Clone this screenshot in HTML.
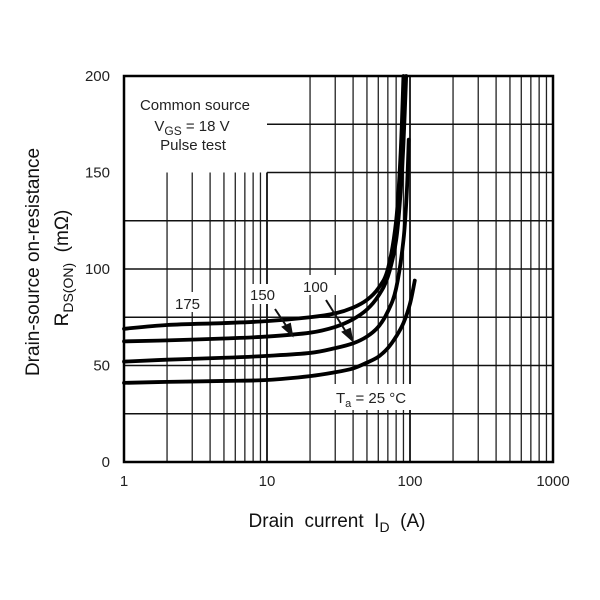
<!DOCTYPE html>
<html><head><meta charset="utf-8"><style>
html,body{margin:0;padding:0;background:#fff;}
svg{display:block;font-family:"Liberation Sans",Arial,sans-serif;}
</style></head><body>
<svg id="chart" width="600" height="600" viewBox="0 0 600 600" xmlns="http://www.w3.org/2000/svg">
<g id="grid"></g>
<g id="masks"></g>
<g id="curves"></g>
<rect x="124" y="76" width="429" height="386" fill="none" stroke="#000" stroke-width="2.5"/>
<g id="ticks" font-size="15" fill="#222"></g>
<g font-size="15" fill="#222" text-anchor="middle">
<text x="195" y="110">Common source</text>
<text x="192" y="131">V<tspan font-size="12" dy="4">GS</tspan><tspan dy="-4"> = 18 V</tspan></text>
<text x="193" y="150">Pulse test</text>
</g>
<g font-size="15" fill="#222">
<text x="175" y="309">175</text>
<text x="250" y="300">150</text>
<text x="303" y="292">100</text>
<text x="336" y="403">T<tspan font-size="11" dy="4">a</tspan><tspan dy="-4"> = 25 °C</tspan></text>
</g>
<g stroke="#111" stroke-width="2" fill="#111">
<line x1="275" y1="309" x2="289" y2="330"/><polygon points="292,335 283,327 290,324"/>
<line x1="326" y1="300" x2="348" y2="335"/><polygon points="352,340 343,332 350,329"/>
</g>
<text x="337" y="527" font-size="19" fill="#111" text-anchor="middle">Drain&#160; current&#160; I<tspan font-size="14" dy="5">D</tspan><tspan dy="-5">&#160; (A)</tspan></text>
<g font-size="19" fill="#111" text-anchor="middle">
<text transform="translate(39,262) rotate(-90)">Drain-source on-resistance</text>
<text transform="translate(68,268) rotate(-90)">R<tspan font-size="14" dy="5">DS(ON)</tspan><tspan dy="-5">&#160; (mΩ)</tspan></text>
</g>
</svg>
<script>
const xTicks=[1,10,100,1000];
const yTicks=[0,50,100,150,200];
const s175x=[1,2,5,10,20,30,40,50,60,70,80,86,90];
const s175y=[69,71,72,73,75,77,80,84,90,100,125,160,200];
const s150x=[1,2,5,10,20,30,40,50,60,70,80,86,90,94];
const s150y=[62.5,63,64,65,67,70,74,79,86,96,115,140,165,200];
const s100x=[1,2,5,10,20,30,40,50,60,70,80,90,95,98];
const s100y=[52,53,54,55,56.5,59,61.5,65,70,78,90,115,140,167];
const s25x=[1,2,5,10,20,30,40,50,60,70,80,90,100,108];
const s25y=[41,41.5,42,42.5,44.5,46.5,48.5,51.5,54.5,59,65,72,82,94];
const X0=124,DEC=143,Y0=462,YS=1.93;
const xs=v=>X0+DEC*Math.log10(v);
const ys=v=>Y0-YS*v;
const NS="http://www.w3.org/2000/svg";
function mk(tag,attrs,parent){const e=document.createElementNS(NS,tag);for(const k in attrs)e.setAttribute(k,attrs[k]);parent.appendChild(e);return e;}
const grid=document.getElementById('grid');
for(let d=0;d<3;d++){for(let m=2;m<=9;m++){const v=Math.pow(10,d)*m;const x=xs(v);
 const top=(d===0)?ys(150):ys(200);
 const l=mk('line',{x1:x,x2:x,y1:top,y2:Y0,stroke:'#222','stroke-width':1.3},grid);
 
 }}
for(const v of xTicks){const x=xs(v);const l=mk('line',{x1:x,x2:x,y1:(v===10?ys(150):ys(200)),y2:Y0,stroke:'#111','stroke-width':1.8},grid);
 
 }
for(let v=25;v<200;v+=25){const y=ys(v);const x1=(v>=150)?xs(10):X0;
 const l=mk('line',{x1:x1,x2:xs(1000),y1:y,y2:y,stroke:'#111','stroke-width':1.6},grid);
 
 }
const masks=document.getElementById('masks');
[[170,292,38,20],[246,284,38,20],[299,275,38,20],[330,384,86,26]].forEach(r=>{
 const m=mk('rect',{x:r[0],y:r[1],width:r[2],height:r[3],fill:'#fff'},masks);
 
 });
const curves=document.getElementById('curves');
[[s175x,s175y,'curve-175c'],[s150x,s150y,'curve-150c'],[s100x,s100y,'curve-100c'],[s25x,s25y,'curve-25c']].forEach(([xa,ya,n])=>{
 const P=xa.map((v,i)=>[xs(v),ys(ya[i])]);
 let d='M'+P[0][0].toFixed(2)+','+P[0][1].toFixed(2);
 for(let i=0;i<P.length-1;i++){
  const p0=P[Math.max(i-1,0)],p1=P[i],p2=P[i+1],p3=P[Math.min(i+2,P.length-1)];
  const t=0.5/3;
  const c1=[p1[0]+(p2[0]-p0[0])*t,p1[1]+(p2[1]-p0[1])*t];
  const c2=[p2[0]-(p3[0]-p1[0])*t,p2[1]-(p3[1]-p1[1])*t];
  d+=' C'+c1[0].toFixed(2)+','+c1[1].toFixed(2)+' '+c2[0].toFixed(2)+','+c2[1].toFixed(2)+' '+p2[0].toFixed(2)+','+p2[1].toFixed(2);
 }
 const p=mk('path',{d:d,fill:'none',stroke:'#000','stroke-width':3.8,'stroke-linejoin':'round','stroke-linecap':'round'},curves);
 
 });
const ticks=document.getElementById('ticks');
xTicks.forEach(v=>{const t=mk('text',{x:xs(v),y:486,'text-anchor':'middle'},ticks);t.textContent=v;
 
 });
yTicks.forEach(v=>{const t=mk('text',{x:110,y:ys(v)+5,'text-anchor':'end'},ticks);t.textContent=v;
 
 });
</script>
</body></html>
